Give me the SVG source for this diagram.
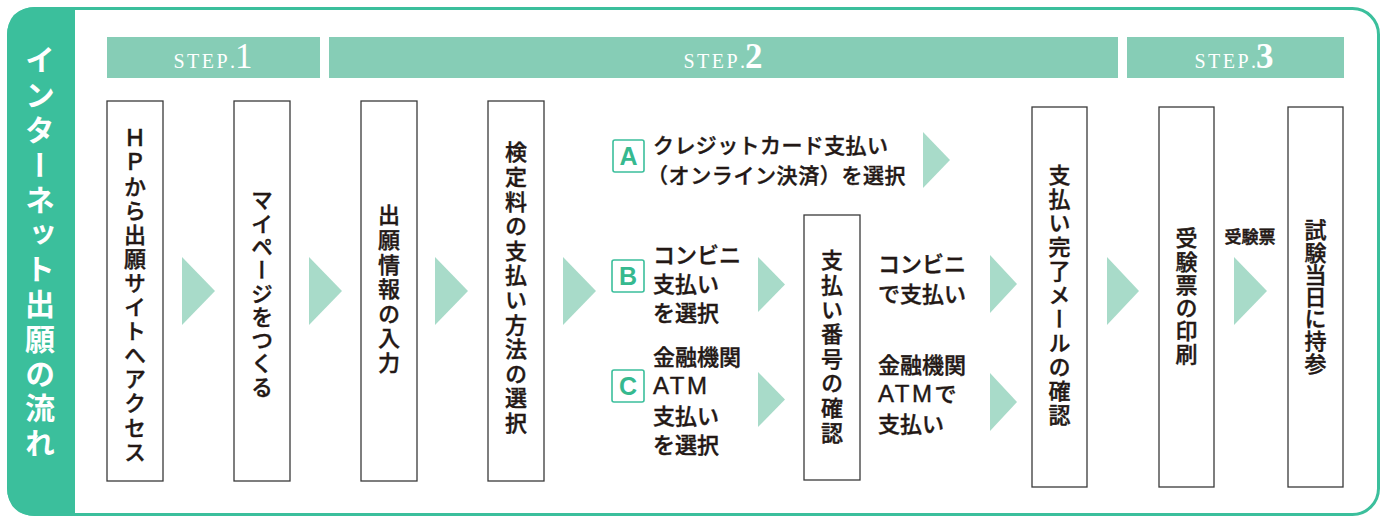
<svg xmlns="http://www.w3.org/2000/svg" width="1391" height="516" viewBox="0 0 1391 516">
<defs>
<style>
.jp{font-family:"Noto Sans CJK JP","Noto Sans CJK SC",sans-serif;font-weight:500;fill:#231815;stroke:#231815;stroke-width:0.4px;}
.v{writing-mode:vertical-rl;font-size:22px;}
.h{font-size:22px;}
.lat{font-family:"Liberation Sans","Noto Sans CJK JP",sans-serif;font-size:24px;letter-spacing:2.5px;}
.box{fill:#fff;stroke:#3a3a3a;stroke-width:1.3;}
.arr{fill:#A8DBC9;}
.bar{fill:#86CDB6;}
.step{font-family:"Liberation Serif",serif;fill:#fff;}
.badge{fill:#fff;stroke:#3BBF9C;stroke-width:1.6;}
.bl{font-family:"Liberation Sans",sans-serif;font-weight:bold;font-size:25px;fill:#36B98F;text-anchor:middle;}
</style>
</defs>
<g id="frame">
<rect x="8.5" y="8.5" width="1370" height="506" rx="26" ry="26" fill="#fff" stroke="#3BBF9C" stroke-width="3"/>
<path d="M75,7 L37,7 Q7,7 7,37 L7,486 Q7,516 37,516 L75,516 Z" fill="#3BBF9C"/>
<text x="40" y="45" style="font-family:'Noto Sans CJK JP',sans-serif;writing-mode:vertical-rl;font-size:30px;font-weight:bold;letter-spacing:4.8px;fill:#fff;">インターネット出願の流れ</text>
</g>
<g id="steps">
<rect class="bar" x="107" y="37" width="213" height="41"/>
<rect class="bar" x="329" y="37" width="789" height="41"/>
<rect class="bar" x="1127" y="37" width="217" height="41"/>
<text class="step" x="213" y="68" text-anchor="middle"><tspan font-size="20" letter-spacing="2.5">STEP</tspan><tspan font-size="20">.</tspan><tspan font-size="35">1</tspan></text>
<text class="step" x="723" y="68" text-anchor="middle"><tspan font-size="20" letter-spacing="2.5">STEP</tspan><tspan font-size="20">.</tspan><tspan font-size="35" font-weight="bold">2</tspan></text>
<text class="step" x="1234" y="68" text-anchor="middle"><tspan font-size="20" letter-spacing="2.5">STEP</tspan><tspan font-size="20">.</tspan><tspan font-size="35" font-weight="bold">3</tspan></text>
</g>
<g id="connectors">
<polygon class="arr" points="182,257 215,291 182,325"/>
<polygon class="arr" points="309,257 342,291 309,325"/>
<polygon class="arr" points="435,257 468,291 435,325"/>
<polygon class="arr" points="563,257 596,291 563,325"/>
<polygon class="arr" points="923,132 950,160 923,188"/>
<polygon class="arr" points="758,257 785,284.5 758,312"/>
<polygon class="arr" points="758,372 785,399.5 758,427"/>
<polygon class="arr" points="990,255 1017,284 990,313"/>
<polygon class="arr" points="990,373 1017,402 990,431"/>
<polygon class="arr" points="1107,257 1139,291 1107,325"/>
<polygon class="arr" points="1234,257 1267,291 1234,325"/>
<text class="jp" x="1250" y="243" text-anchor="middle" style="font-size:17px;stroke-width:0.5px;">受験票</text>
</g>
<g id="n1">
<rect class="box" x="107" y="101" width="56" height="380"/>
<text class="jp v" x="135" y="127" style="letter-spacing:2.1px;">ＨＰから出願サイトへアクセス</text>
</g>
<g id="n2">
<rect class="box" x="234" y="101" width="56" height="380"/>
<text class="jp v" x="262" y="189" style="letter-spacing:1.3px;">マイページをつくる</text>
</g>
<g id="n3">
<rect class="box" x="361" y="101" width="56" height="380"/>
<text class="jp v" x="389" y="204" style="letter-spacing:2.6px;">出願情報の入力</text>
</g>
<g id="n4">
<rect class="box" x="488" y="101" width="56" height="380"/>
<text class="jp v" x="516" y="141" style="letter-spacing:2.6px;">検定料の支払い方法の選択</text>
</g>
<g id="optA">
<rect class="badge" x="613" y="140" width="31" height="32" rx="2"/>
<text class="bl" x="628.5" y="165">A</text>
<text class="jp" x="653" y="153" style="font-size:21px;letter-spacing:0.4px;">クレジットカード支払い</text>
<text class="jp" x="647" y="183" style="font-size:21px;letter-spacing:0.6px;">（オンライン決済）を選択</text>
</g>
<g id="optB">
<rect class="badge" x="612" y="260" width="32" height="32" rx="2"/>
<text class="bl" x="628" y="285">B</text>
<text class="jp h" x="653" y="263">コンビニ</text>
<text class="jp h" x="653" y="292">支払い</text>
<text class="jp h" x="653" y="321">を選択</text>
</g>
<g id="optC">
<rect class="badge" x="612" y="370" width="32" height="32" rx="2"/>
<text class="bl" x="628" y="395">C</text>
<text class="jp h" x="653" y="365">金融機関</text>
<text class="jp lat" x="653" y="394">ATM</text>
<text class="jp h" x="653" y="424">支払い</text>
<text class="jp h" x="653" y="453">を選択</text>
</g>
<g id="n5">
<rect class="box" x="804" y="215" width="56" height="265"/>
<text class="jp v" x="832" y="249" style="letter-spacing:2.6px;">支払い番号の確認</text>
</g>
<g id="payB">
<text class="jp h" x="878" y="272">コンビニ</text>
<text class="jp h" x="878" y="302">で支払い</text>
</g>
<g id="payC">
<text class="jp h" x="878" y="373">金融機関</text>
<text class="jp h" x="878" y="402"><tspan class="lat">ATM</tspan>で</text>
<text class="jp h" x="878" y="432">支払い</text>
</g>
<g id="n6">
<rect class="box" x="1032" y="107" width="55" height="380"/>
<text class="jp v" x="1059.5" y="164" style="letter-spacing:2px;">支払い完了メールの確認</text>
</g>
<g id="n7">
<rect class="box" x="1159" y="107" width="55" height="380"/>
<text class="jp v" x="1186.5" y="227" style="letter-spacing:1.2px;">受験票の印刷</text>
</g>
<g id="n8">
<rect class="box" x="1288" y="107" width="55" height="380"/>
<text class="jp v" x="1315.5" y="219" style="letter-spacing:0.2px;">試験当日に持参</text>
</g>
</svg>
